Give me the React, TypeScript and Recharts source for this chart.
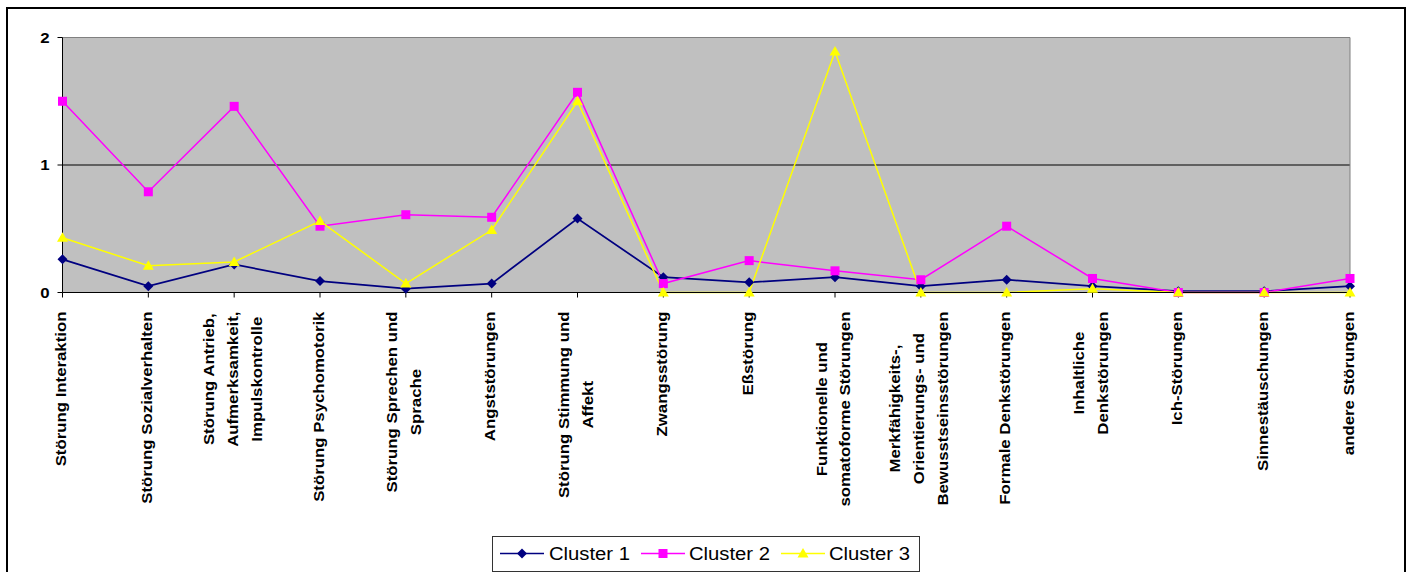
import React from "react";
import {
  LineChart,
  Line,
  XAxis,
  YAxis,
  CartesianGrid,
  ReferenceLine,
} from "recharts";

const categories = [
  "Störung Interaktion",
  "Störung Sozialverhalten",
  "Störung Antrieb,\nAufmerksamkeit,\nImpulskontrolle",
  "Störung Psychomotorik",
  "Störung Sprechen und\nSprache",
  "Angststörungen",
  "Störung Stimmung und\nAffekt",
  "Zwangsstörung",
  "Eßstörung",
  "Funktionelle und\nsomatoforme Störungen",
  "Merkfähigkeits-,\nOrientierungs- und\nBewusstseinsstörungen",
  "Formale Denkstörungen",
  "Inhaltliche\nDenkstörungen",
  "Ich-Störungen",
  "Sinnestäuschungen",
  "andere Störungen",
];

const cluster1 = [0.26, 0.05, 0.22, 0.09, 0.03, 0.07, 0.58, 0.12, 0.08, 0.12, 0.05, 0.1, 0.05, 0.01, 0.01, 0.05];
const cluster2 = [1.5, 0.79, 1.46, 0.52, 0.61, 0.59, 1.57, 0.07, 0.25, 0.17, 0.1, 0.52, 0.11, 0, 0, 0.11];
const cluster3 = [0.43, 0.21, 0.24, 0.56, 0.07, 0.49, 1.5, 0, 0, 1.89, 0, 0, 0.03, 0, 0, 0];

const yTicks = [0, 1, 2];
const seriesNames = ["Cluster 1", "Cluster 2", "Cluster 3"];

const data = categories.map((c, i) => ({
  name: c,
  c1: cluster1[i],
  c2: cluster2[i],
  c3: cluster3[i],
}));

const FONT = "'Liberation Sans', Arial, sans-serif";
const NAVY = "#000080";
const MAGENTA = "#FF00FF";
const YELLOW = "#FFFF00";

let ctx: CanvasRenderingContext2D | null = null;
function measure(s: string) {
  if (!ctx) {
    const c = document.createElement("canvas");
    ctx = c.getContext("2d");
  }
  if (!ctx) return s.length * 7.5;
  ctx.font = `bold 14px ${FONT}`;
  return ctx.measureText(s).width;
}

// Rotated, multi-line category labels, top-aligned under the axis
const XTick = ({ x, y, payload }: any) => {
  const lines = String(payload.value).split("\n");
  const w = Math.max(...lines.map(measure));
  return (
    <g transform={`translate(${x},${y + 12}) rotate(-90) scale(1.2,1)`}>
      {lines.map((l, i) => (
        <text
          key={i}
          x={-w / 2}
          y={(i - (lines.length - 1) / 2) * 24 + 3.5}
          textAnchor="middle"
          fontFamily={FONT}
          fontWeight="bold"
          fontSize={14}
          fill="#000"
        >
          {l}
        </text>
      ))}
    </g>
  );
};

const YTick = ({ x, y, payload }: any) => (
  <text
    transform={`translate(${x},${y + 5}) scale(1.2,1)`}
    textAnchor="end"
    fontFamily={FONT}
    fontWeight="bold"
    fontSize={14}
    fill="#000"
  >
    {payload.value}
  </text>
);

const Diamond = ({ cx, cy, fill }: any) => (
  <polygon
    points={`${cx},${cy - 5} ${cx + 5},${cy} ${cx},${cy + 5} ${cx - 5},${cy}`}
    fill={fill}
  />
);
const Square = ({ cx, cy, fill }: any) => (
  <rect x={cx - 4.5} y={cy - 4.5} width={9} height={9} fill={fill} />
);
const Triangle = ({ cx, cy, fill }: any) => (
  <polygon
    points={`${cx},${cy - 5.5} ${cx + 5.5},${cy + 4} ${cx - 5.5},${cy + 4}`}
    fill={fill}
  />
);

function LegendBox() {
  const items = [
    { name: seriesNames[0], color: NAVY, Shape: Diamond, x0: 7, tx: 56 },
    { name: seriesNames[1], color: MAGENTA, Shape: Square, x0: 148, tx: 196 },
    { name: seriesNames[2], color: YELLOW, Shape: Triangle, x0: 288, tx: 336 },
  ];
  return (
    <div
      style={{
        position: "absolute",
        left: 492,
        top: 536,
        width: 426,
        height: 34,
        border: "1px solid #333",
        background: "#fff",
      }}
    >
      <svg width={426} height={34}>
        {items.map((it) => (
          <g key={it.name}>
            <line x1={it.x0} x2={it.x0 + 44} y1={16.5} y2={16.5} stroke={it.color} strokeWidth={1.5} />
            <it.Shape cx={it.x0 + 22} cy={16.5} fill={it.color} />
            <text
              x={it.tx}
              y={23}
              fontFamily={FONT}
              fontSize={18}
              fill="#000"
              textLength={81}
              lengthAdjust="spacingAndGlyphs"
            >
              {it.name}
            </text>
          </g>
        ))}
      </svg>
    </div>
  );
}

export default function App() {
  return (
    <div
      style={{
        position: "absolute",
        left: 0,
        top: 0,
        width: 1411,
        height: 572,
        overflow: "hidden",
        background: "#fff",
      }}
    >
      <div
        style={{
          position: "absolute",
          left: 6,
          top: 7,
          width: 1396,
          height: 590,
          border: "2px solid #000",
        }}
      />
      <div style={{ position: "absolute", left: 0, top: 0 }}>
        <LineChart
          width={1411}
          height={572}
          data={data}
          margin={{ top: 37.5, right: 61, bottom: 0, left: 12.5 }}
        >
          <CartesianGrid horizontal={false} vertical={false} fill="#C0C0C0" stroke="none" />
          <ReferenceLine y={2} stroke="#808080" strokeWidth={1} />
          <ReferenceLine y={1} stroke="#000" strokeWidth={1} />
          <ReferenceLine x={categories[categories.length - 1]} stroke="#808080" strokeWidth={1} />
          <XAxis
            dataKey="name"
            interval={0}
            height={279.5}
            tickSize={5}
            tickMargin={2}
            axisLine={{ stroke: "#000" }}
            tickLine={{ stroke: "#000" }}
            tick={<XTick />}
          />
          <YAxis
            domain={[0, 2]}
            ticks={yTicks}
            width={50}
            tickSize={5}
            tickMargin={8}
            axisLine={{ stroke: "#000" }}
            tickLine={{ stroke: "#000" }}
            tick={<YTick />}
          />
          <Line
            dataKey="c1"
            name={seriesNames[0]}
            stroke={NAVY}
            strokeWidth={1.75}
            isAnimationActive={false}
            dot={(p: any) => <Diamond key={`d1-${p.index}`} cx={p.cx} cy={p.cy} fill={NAVY} />}
            activeDot={false}
          />
          <Line
            dataKey="c2"
            name={seriesNames[1]}
            stroke={MAGENTA}
            strokeWidth={1.5}
            isAnimationActive={false}
            dot={(p: any) => <Square key={`d2-${p.index}`} cx={p.cx} cy={p.cy} fill={MAGENTA} />}
            activeDot={false}
          />
          <Line
            dataKey="c3"
            name={seriesNames[2]}
            stroke={YELLOW}
            strokeWidth={1.5}
            isAnimationActive={false}
            dot={(p: any) => <Triangle key={`d3-${p.index}`} cx={p.cx} cy={p.cy} fill={YELLOW} />}
            activeDot={false}
          />
        </LineChart>
      </div>
      <LegendBox />
    </div>
  );
}
